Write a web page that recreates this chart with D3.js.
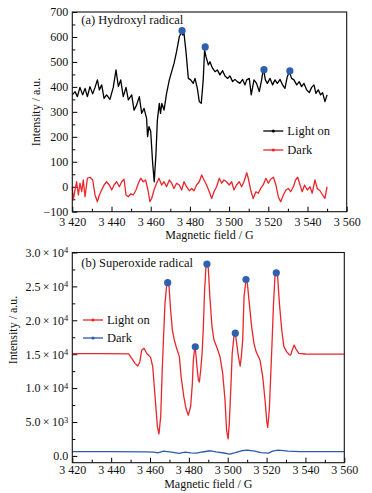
<!DOCTYPE html>
<meta charset="utf-8">
<script src="https://cdn.jsdelivr.net/npm/d3@7"></script>
<style>
  body { margin: 0; background: #fff; }
</style>
<div id="my_dataviz"></div>
<script>

// (a) hydroxyl radical, light on: [field G, intensity]
var ohLight = [[3420,368],[3421.4,381],[3422.6,361],[3423.9,398],[3425.3,368],[3426.5,394],[3427.7,361],[3429,401],
  [3430.4,372],[3431.6,398],[3432.8,428],[3433.8,388],[3435,408],[3436.2,354],[3437.5,368],[3439.2,350],[3440.9,398],
  [3442.3,468],[3443.5,401],[3444.7,428],[3446,361],[3447.4,398],[3448.6,348],[3450.3,368],[3451.5,307],[3452.8,327],
  [3454.2,361],[3455.4,294],[3456.6,314],[3457.9,274],[3458.4,201],[3459.1,241],[3460,221],[3461,94],[3461.8,20],
  [3462.7,134],[3463.4,267],[3464.4,334],[3465,294],[3465.7,334],[3466.8,307],[3468.1,374],[3469.5,428],[3470.7,461],
  [3471.9,494],[3473.2,541],[3474.6,601],[3475.8,621],[3476.3,608],[3477,614],[3478,541],[3479.2,434],[3480.4,428],
  [3481.7,414],[3482.6,434],[3483.8,394],[3484.8,341],[3485.8,334],[3486.8,428],[3487.5,548],[3488.2,521],[3489.4,488],
  [3490.2,501],[3491.6,474],[3492.8,461],[3494,468],[3495.3,448],[3496.7,465],[3497.9,444],[3499.3,434],[3500.4,444],
  [3501.8,421],[3503,430],[3504.2,421],[3505.5,414],[3506.9,430],[3508.1,408],[3509,428],[3510.3,434],[3511.3,368],
  [3512.7,428],[3514,414],[3515.4,381],[3516.6,428],[3517.5,474],[3518.5,428],[3519.5,414],[3520.9,434],[3522.2,408],
  [3523.4,428],[3524.6,414],[3526,430],[3527.3,408],[3528.5,394],[3529.7,441],[3530.7,461],[3531.9,434],[3533.1,428],
  [3534.5,408],[3535.8,421],[3537,401],[3538.2,414],[3539.6,388],[3540.9,377],[3542.1,398],[3543.3,408],[3544.3,374],
  [3545.5,388],[3546.7,368],[3547.7,377],[3548.9,341],[3550,368]];

// (a) dark
var ohDark = [[3420,0],[3420.5,-53],[3421.4,-13],[3422.2,20],[3423.1,-33],[3423.9,14],[3424.8,-20],[3425.6,27],
  [3426.5,-40],[3427.7,34],[3429,38],[3430.4,27],[3431.6,-33],[3432.8,-60],[3433.8,-33],[3435,-13],[3436.2,7],
  [3437.5,20],[3438.9,7],[3440.1,-13],[3441.3,7],[3442.6,20],[3444,0],[3445.2,20],[3446.4,30],[3447.4,-33],
  [3448.6,-40],[3449.8,-29],[3451.1,-33],[3452.5,-13],[3453.7,14],[3454.9,34],[3456.2,20],[3457.4,27],[3458.6,-13],
  [3459.6,-60],[3460.5,-47],[3461.7,-13],[3463,14],[3464.2,34],[3465.6,7],[3466.8,20],[3468.1,0],[3469.5,27],
  [3470.7,14],[3471.9,-7],[3473.2,14],[3474.6,7],[3475.8,-13],[3477,20],[3478.3,0],[3479.7,-16],[3480.9,-7],
  [3482.1,-16],[3483.4,7],[3484.8,20],[3486,47],[3487.2,27],[3488.5,7],[3489.9,-20],[3491.1,-47],[3492.3,-20],
  [3493.6,0],[3495,34],[3496.2,14],[3497.4,27],[3498.7,20],[3500.1,7],[3501.3,20],[3502.5,-13],[3503.8,7],
  [3505.2,20],[3506.4,0],[3507.6,20],[3509,56],[3509.8,34],[3511,-13],[3512.3,-47],[3513.7,-20],[3514.9,-26],
  [3516.1,-7],[3517.4,7],[3518.8,34],[3520,14],[3521.2,30],[3522.6,38],[3523.9,7],[3525.1,-40],[3526.3,-60],
  [3527.7,-33],[3529,-13],[3530.2,-7],[3531.4,-20],[3532.8,0],[3533.9,27],[3535,38],[3536.2,7],[3537.3,-20],
  [3538.5,7],[3539.9,-13],[3541.3,0],[3542.4,-26],[3543.8,27],[3545,-7],[3546.4,-16],[3547.7,-33],[3548.9,-47],[3550,0]];

var ohPeaks = [[3476,625],[3487.8,560],[3517.8,469],[3531,464]];

// (b) superoxide radical, light on
var o2Light = [[3420,15100],[3435,15080],[3449,15050],[3450.6,14400],[3452.3,13650],[3453.7,13250],[3454.8,13900],
  [3455.7,15600],[3456.9,15870],[3458.5,15030],[3459.1,14900],[3460.3,14540],[3461.4,13160],[3462.6,8740],
  [3463.8,4315],[3464.6,3250],[3465.5,5790],[3466.3,12670],[3466.9,17100],[3467.7,22500],[3468.6,25200],[3469.1,25550],
  [3469.8,24960],[3470.6,21530],[3471.5,18570],[3472.5,17100],[3473.7,15870],[3475.1,14640],[3476,11690],[3477.4,8740],
  [3478.5,7020],[3479.7,6000],[3480.9,7260],[3481.8,10700],[3482.3,14150],[3483,15870],[3483.3,16100],[3484,13650],
  [3484.9,11200],[3485.4,10900],[3486.1,12670],[3486.8,15130],[3487.4,18570],[3488.1,24470],[3488.8,27910],[3489.3,28300],
  [3490,27670],[3490.8,23490],[3491.9,19060],[3492.9,17100],[3494.3,16110],[3495.1,15400],[3496,14640],[3497.4,12180],
  [3498.6,8250],[3499.4,3820],[3500.2,2500],[3500.8,4800],[3501.7,10700],[3502.3,15130],[3503.2,17590],[3503.9,18080],
  [3504.6,16600],[3505.5,14640],[3506.4,13250],[3507,14640],[3507.7,17100],[3508.4,23490],[3509.4,25950],
  [3510.1,25460],[3511.1,22500],[3512.3,19060],[3513.5,16610],[3514.6,15380],[3515.8,14640],[3516.6,14150],
  [3518,11690],[3519.2,8250],[3520.1,5050],[3520.6,4200],[3521.4,6770],[3522.1,11690],[3522.8,16610],[3523.5,22010],
  [3524.3,26440],[3525,27030],[3525.7,26440],[3526.6,22500],[3527.8,18570],[3528.9,16110],[3530.3,15380],
  [3531.7,14900],[3532.4,14880],[3533.2,15620],[3534.2,16360],[3535.2,15720],[3536.6,15130],[3540,15030],[3560,15000]];

// (b) dark
var o2Dark = [[3420,620],[3440,630],[3458,610],[3462,560],[3464,450],[3467,700],[3471,560],[3475,380],[3478,560],
  [3481,450],[3484,400],[3487,580],[3491,760],[3494,600],[3498,430],[3501,250],[3504,480],[3507,760],[3510,860],
  [3514,720],[3517,500],[3521,420],[3523,700],[3526,840],[3531,720],[3537,620],[3560,620]];

var o2Peaks = [[3469.1,25550],[3483.3,16100],[3489.3,28300],[3503.9,18100],[3509.4,26000],[3525,27000]];

var xTicks = [3420,3440,3460,3480,3500,3520,3540,3560];
var ohTicks = [-100,0,100,200,300,400,500,600,700];
var o2Ticks = [0,5000,10000,15000,20000,25000,30000];

var red = "#e8262b", blue = "#2b5cab", dotBlue = "#2f5fb0";
var serif = "'Liberation Serif', 'DejaVu Serif', 'Times New Roman', serif";

var svg = d3.select("#my_dataviz").append("svg")
  .attr("width", 372).attr("height", 493)
  .attr("font-family", serif);

function fmtX(d) { return String(d).replace(/^(\d)(\d{3})$/, "$1 $2"); }

function panel(o) {
  var g = svg.append("g").attr("transform", "translate(" + o.left + "," + o.top + ")");
  var w = o.right - o.left, h = o.bottom - o.top;
  var x = d3.scaleLinear().domain([3420, 3560]).range([0, w]);
  var y = d3.scaleLinear().domain(o.ydom).range([h, 0]);

  // minor ticks
  g.append("g").attr("transform", "translate(0," + h + ")")
    .call(d3.axisBottom(x).tickValues(d3.range(3430, 3560, 20)).tickSize(-3).tickFormat(""))
    .call(function(s) { s.select(".domain").remove(); });
  g.append("g")
    .call(d3.axisLeft(y).tickValues(o.minor).tickSize(-3).tickFormat(""))
    .call(function(s) { s.select(".domain").remove(); });

  var xa = g.append("g").attr("transform", "translate(0," + h + ")")
    .call(d3.axisBottom(x).tickValues(xTicks).tickSize(-5).tickPadding(o.xpad).tickFormat(fmtX));
  xa.attr("font-family", serif).attr("font-size", 12);
  xa.select(".domain").remove();
  xa.selectAll("text").attr("fill", "#111");

  var ya = g.append("g")
    .call(d3.axisLeft(y).tickValues(o.yticks).tickSize(-5).tickPadding(o.ypad).tickFormat(o.yfmt || d3.format("d")));
  ya.attr("font-family", serif).attr("font-size", 12);
  ya.select(".domain").remove();
  ya.selectAll("text").attr("fill", "#111");
  if (o.sup) ya.selectAll("text").each(o.sup);

  var line = d3.line().x(function(d) { return x(d[0]); }).y(function(d) { return y(d[1]); });
  o.series.forEach(function(s) {
    g.append("path").datum(s.data)
      .attr("fill", "none").attr("stroke", s.color).attr("stroke-width", 1.3)
      .attr("stroke-linejoin", "round").attr("d", line);
  });

  g.selectAll(".peak").data(o.peaks).enter().append("circle")
    .attr("cx", function(d) { return x(d[0]); }).attr("cy", function(d) { return y(d[1]); })
    .attr("r", 3.6).attr("fill", dotBlue);

  g.append("rect").attr("width", w).attr("height", h)
    .attr("fill", "none").attr("stroke", "#111").attr("stroke-width", 1.1);

  g.append("text").attr("x", 9).attr("y", o.titleY).attr("font-size", 12.5).attr("fill", "#111").text(o.title);

  // legend
  o.series.forEach(function(s, i) {
    var ly = o.legY + i * o.legDy;
    g.append("line").attr("x1", o.legX).attr("x2", o.legX + 20).attr("y1", ly).attr("y2", ly)
      .attr("stroke", s.color).attr("stroke-width", 1.3);
    g.append("circle").attr("cx", o.legX + 10).attr("cy", ly).attr("r", 1.6).attr("fill", s.color);
    g.append("text").attr("x", o.legX + 24).attr("y", ly).attr("dy", "0.35em")
      .attr("font-size", 12.5).attr("fill", "#111").text(s.name);
  });

  g.append("text").attr("text-anchor", "middle").attr("x", w / 2).attr("y", o.xlabY)
    .attr("font-size", 12).attr("fill", "#111").text("Magnetic field / G");
  svg.append("text").attr("text-anchor", "middle")
    .attr("transform", "translate(" + o.ylabX + "," + o.ylabY + ") rotate(-90)")
    .attr("dy", "0.35em").attr("font-size", 12).attr("fill", "#111").text("Intensity / a.u.");
}

panel({
  left: 72.3, right: 346.7, top: 12, bottom: 211.7,
  ydom: [-100, 700], yticks: ohTicks, minor: d3.range(-50, 700, 100),
  xpad: 5.5, ypad: 4,
  series: [{name: "Light on", color: "#000", data: ohLight}, {name: "Dark", color: red, data: ohDark}],
  peaks: ohPeaks, title: "(a) Hydroxyl radical", titleY: 12,
  legX: 191, legY: 119, legDy: 19,
  xlabY: 226.5, ylabX: 36, ylabY: 112
});

panel({
  left: 72.3, right: 344.3, top: 252.5, bottom: 462.7,
  ydom: [-1000, 30000], yticks: o2Ticks, minor: d3.range(2500, 30000, 5000),
  xpad: 2.5, ypad: 4,
  yfmt: function(d) { return d; },
  sup: function(d) {
    var t = d3.select(this);
    t.text(null);
    if (d === 0) { t.text("0.0"); return; }
    var e = Math.floor(Math.log10(d));
    t.append("tspan").text((d / Math.pow(10, e)).toFixed(1) + "\u2009\u00d7\u200910");
    t.append("tspan").attr("dy", "-0.45em").attr("font-size", 8.5).text(e);
  },
  series: [{name: "Light on", color: red, data: o2Light}, {name: "Dark", color: blue, data: o2Dark}],
  peaks: o2Peaks, title: "(b) Superoxide radical", titleY: 14.5,
  legX: 10.7, legY: 67.5, legDy: 18,
  xlabY: 235.5, ylabX: 13, ylabY: 330
});

</script>
